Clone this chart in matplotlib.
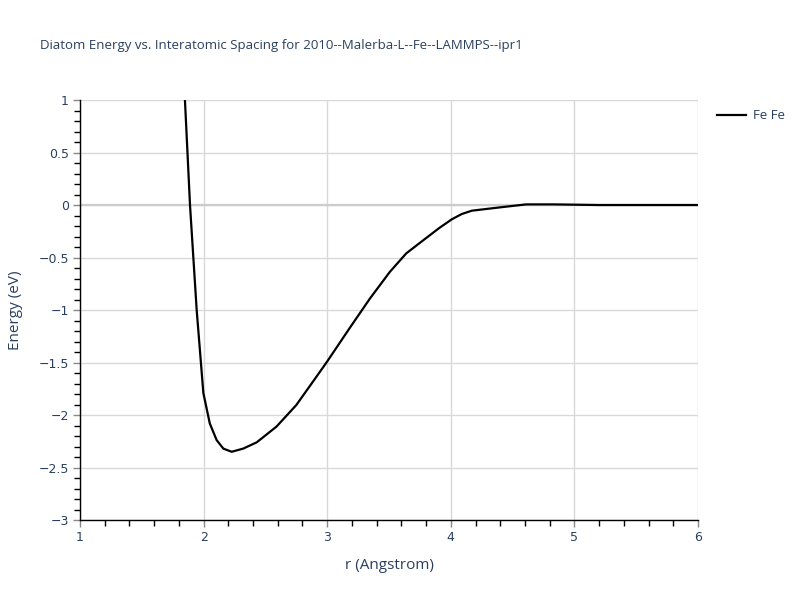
import matplotlib
matplotlib.use("Agg")
import matplotlib.pyplot as plt
from matplotlib.ticker import MultipleLocator

# values
r_values = [1.849, 1.89, 1.944, 1.998, 2.05, 2.106, 2.16, 2.227, 2.32, 2.43,
            2.59, 2.75, 2.88, 3.0, 3.18, 3.346, 3.508, 3.64, 3.78, 3.91,
            4.007, 4.088, 4.17, 4.40, 4.61, 4.83, 5.2, 6.0]
energy_values = [1.0, 0.0, -1.0, -1.79, -2.08, -2.24, -2.32, -2.35, -2.32, -2.26,
                 -2.11, -1.905, -1.69, -1.49, -1.175, -0.89, -0.635, -0.46, -0.333, -0.216,
                 -0.137, -0.086, -0.054, -0.022, 0.006, 0.006, 0.0, 0.0]

title_text = "Diatom Energy vs. Interatomic Spacing for 2010--Malerba-L--Fe--LAMMPS--ipr1"
series_label = "Fe Fe"
x_ticks = [1, 2, 3, 4, 5, 6]
y_ticks = [-3, -2.5, -2, -1.5, -1, -0.5, 0, 0.5, 1]

text_color = "#2a3f5f"
plt.rcParams['font.family'] = ['Open Sans', 'DejaVu Sans']

fig = plt.figure(figsize=(8, 6), dpi=100)
ax = fig.add_axes([0.1, 0.1333, 0.7725, 0.7])

ax.plot(r_values, energy_values, color="black", linewidth=1.6, label=series_label, zorder=3)

ax.set_xlim(1, 6)
ax.set_ylim(-3, 1)
ax.set_xticks(x_ticks)
ax.set_yticks(y_ticks)
ax.set_xticklabels([str(t) for t in x_ticks], family="DejaVu Sans")
ax.set_yticklabels([("\u2212%g" % -t) if t < 0 else "%g" % t for t in y_ticks], family="DejaVu Sans")
ax.xaxis.set_minor_locator(MultipleLocator(0.2))
ax.yaxis.set_minor_locator(MultipleLocator(0.1))

ax.grid(True, which="major", color="#d9d9d9", linewidth=1)
ax.axhline(0, color="#cccccc", linewidth=1.6, zorder=1)
ax.set_axisbelow(True)

for side in ["top", "right"]:
    ax.spines[side].set_visible(False)
for side in ["left", "bottom"]:
    ax.spines[side].set_color("black")
    ax.spines[side].set_linewidth(1)

ax.tick_params(which="major", direction="out", length=5, width=1, color="#888888",
               labelcolor=text_color, labelsize=9, pad=3)
ax.tick_params(which="minor", direction="out", length=4, width=1, color="black")

ax.set_xlabel("r (Angstrom)", color=text_color, fontsize=11, labelpad=10)
ax.set_ylabel("Energy (eV)", color=text_color, fontsize=11, labelpad=11)

fig.text(0.05, 0.925, title_text, color=text_color, fontsize=9.5, ha="left", va="center")

leg = ax.legend(loc="upper left", bbox_to_anchor=(1.015, 1.0), frameon=False,
                fontsize=9.5, handlelength=2.2, handletextpad=0.6, borderaxespad=0.3)
for t in leg.get_texts():
    t.set_color(text_color)

fig.savefig("out.png", dpi=100)
